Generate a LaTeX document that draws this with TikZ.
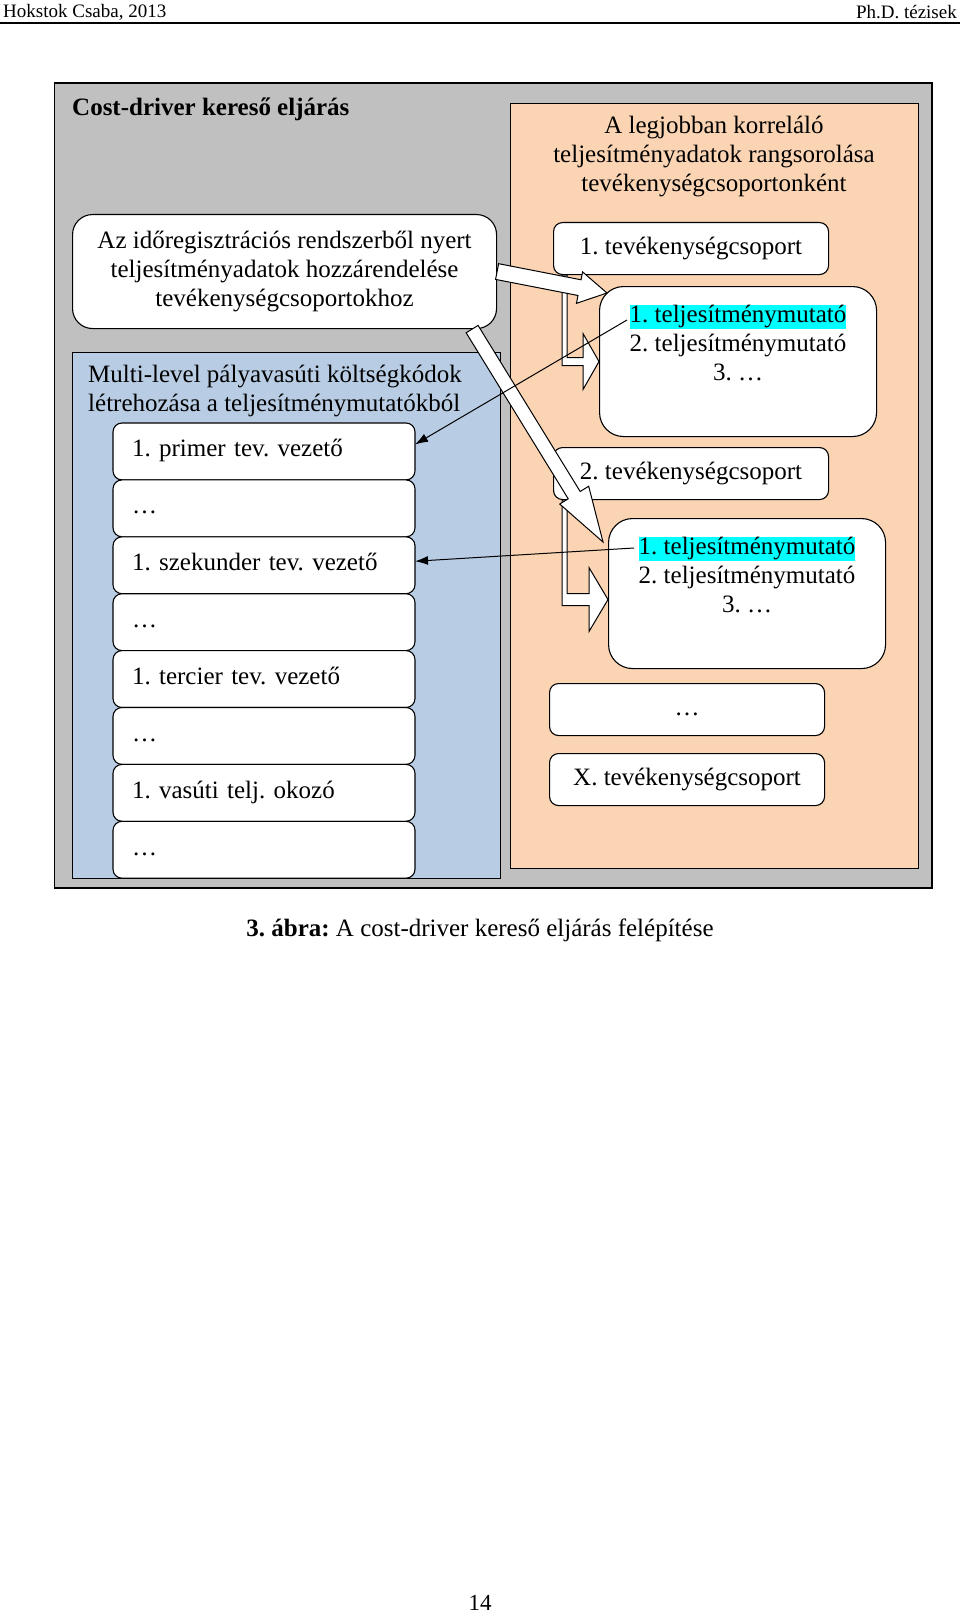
\documentclass[tikz,border=0pt]{standalone}
\usepackage{fontspec}
\setmainfont{Liberation Serif}
\usetikzlibrary{positioning,calc,arrows.meta}

\definecolor{panelgray}{RGB}{192,192,192}
\definecolor{panelpeach}{RGB}{251,212,180}
\definecolor{panelblue}{RGB}{184,204,228}
\definecolor{markcyan}{RGB}{0,255,255}

\newcommand{\hlmark}[1]{{\setlength{\fboxsep}{0pt}\colorbox{markcyan}{\rule[-6pt]{0pt}{24pt}#1}}}
% #1 tail, #2 tip, #3 half shaft, #4 half head, #5 head length
\newcommand{\blockarrow}[5]{%
    \coordinate (ba-base) at ($(#2)!#5!(#1)$);
    \draw[fatarrow] ($(#1)!#3!90:(#2)$) -- ($(ba-base)!#3!90:(#2)$) -- ($(ba-base)!#4!90:(#2)$)
        -- (#2) -- ($(ba-base)!#4!-90:(#2)$) -- ($(ba-base)!#3!-90:(#2)$) -- ($(#1)!#3!-90:(#2)$) -- cycle;
}
% #1 top of the shaft, #2 tip, #3 half foot, #4 half head, #5 head length
\newcommand{\bentarrow}[5]{%
    \coordinate (be-foot) at ($(#2)+(-#5,#3)$);
    \draw[fatarrow] (#1) -- ++(5,0) |- ($(#2)+(-#5,-#3)$) -- ($(#2)+(-#5,-#4)$) -- (#2)
        -- ($(#2)+(-#5,#4)$) -- (be-foot) -- (be-foot -| #1) -- cycle;
}

\begin{document}
\frenchspacing
\begin{tikzpicture}
[
    x=1pt, y=-1pt,
    node distance=0pt,
    every node/.style={font=\frenchspacing\fontsize{25}{29}\selectfont},
    headtext/.style={font=\frenchspacing\fontsize{19}{22}\selectfont, inner sep=0pt},
    card/.style={shape=rectangle, rounded corners=20pt, draw, line width=1.1pt, fill=white, align=center},
    rowbox/.style={shape=rectangle, rounded corners=9pt, draw, line width=1.1pt, fill=white,
        text width=264pt, inner xsep=19pt, inner ysep=0pt, outer sep=0pt, minimum height=56.9pt,
        align=left, text height=18pt, text depth=7pt},
    groupbox/.style={shape=rectangle, rounded corners=9pt, draw, line width=1.1pt, fill=white,
        minimum width=275pt, minimum height=52pt, text height=18pt, text depth=7pt},
    listbox/.style={shape=rectangle, rounded corners=24pt, draw, line width=1.1pt, fill=white,
        minimum width=277pt, minimum height=150pt, align=center},
    fatarrow/.style={draw, line width=1pt, fill=white, line join=miter},
    link/.style={line width=1pt, -{Latex[length=13pt,width=9pt]}},
]
\useasboundingbox (0,0) rectangle (960,1613);
\fill[white] (0,0) rectangle (960,1613);

% page header
\node[headtext, anchor=west] (author) at (3,12) {Hokstok Csaba, 2013};
\node[headtext, anchor=east] (thesis) at (957,12) {Ph.D. tézisek};
\draw[line width=1.5pt] (0,23) -- (960,23);

% panels
\draw[fill=panelgray, line width=1.5pt] (54.5,83) rectangle (932,888);
\draw[fill=panelpeach, line width=1pt] (510,104) rectangle (918,868);
\draw[fill=panelblue, line width=1pt] (72,352) rectangle (500,878);

\node[anchor=west, inner sep=0pt, font=\bfseries\fontsize{25}{29}\selectfont] (title) at (72,109)
    {Cost-driver kereső eljárás};
\node[align=center] (ranking) at (714,157)
    {A legjobban korreláló\\teljesítményadatok rangsorolása\\tevékenységcsoportonként};
\node[card, minimum width=424pt, minimum height=114pt, anchor=north west] (regbox) at (72,214)
    {Az időregisztrációs rendszerből nyert\\teljesítményadatok hozzárendelése\\tevékenységcsoportokhoz};
\node[anchor=west, align=left, inner sep=0pt] (multilevel) at (88,391)
    {Multi-level pályavasúti költségkódok\\létrehozása a teljesítménymutatókból};

% cost codes
\node[rowbox, anchor=north west] (r1) at (113,423) {1. primer tev. vezető};
\node[rowbox, below=of r1] (r2) {…};
\node[rowbox, below=of r2] (r3) {1. szekunder tev. vezető};
\node[rowbox, below=of r3] (r4) {…};
\node[rowbox, below=of r4] (r5) {1. tercier tev. vezető};
\node[rowbox, below=of r5] (r6) {…};
\node[rowbox, below=of r6] (r7) {1. vasúti telj. okozó};
\node[rowbox, below=of r7] (r8) {…};

% activity groups
\node[groupbox, anchor=north west] (group1) at (553,222) {1. tevékenységcsoport};
\node[listbox, anchor=north west] (mut1) at (599,286)
    {\hlmark{1. teljesítménymutató}\\2. teljesítménymutató\\3. …\\\strut};
\node[groupbox, anchor=north west] (group2) at (553,447) {2. tevékenységcsoport};
\node[listbox, anchor=north west] (mut2) at (608,518)
    {\hlmark{1. teljesítménymutató}\\2. teljesítménymutató\\3. …\\\strut};
\node[groupbox, anchor=north west] (groupdots) at (549,683) {…};
\node[groupbox, anchor=north west] (groupx) at (549,753) {X. tevékenységcsoport};

% arrows
\coordinate (foot1) at ($(group1.south west)+(9,0)$);
\coordinate (foot2) at ($(group2.south west)+(9,0)$);
\coordinate (bend2) at ($(mut2.west)+(0,6)$);
\bentarrow{foot1}{mut1.west}{4}{28}{16}
\bentarrow{foot2}{bend2}{6}{32}{19}

\coordinate (tip1) at ($(mut1.north west)+(8,7)$);
\coordinate (tail2) at ($(regbox.south east)+(-25,0)$);
\coordinate (tip2) at ($(mut2.north west)+(-5,24)$);
\blockarrow{regbox.east}{tip1}{8pt}{16pt}{28pt}
\blockarrow{tail2}{tip2}{7pt}{17pt}{55pt}

\coordinate (lead1) at (627,320);
\coordinate (lead2) at (634,548);
\draw[link] (lead1) -- ($(r1.east)+(0,-7)$);
\draw[link] (lead2) -- ($(r3.east)+(0,-4)$);

% caption and page number
\node (caption) at (480,930) {\textbf{3. ábra:} A cost-driver kereső eljárás felépítése};
\node[font=\fontsize{23}{27}\selectfont] (pagenum) at (480,1603) {14};
\end{tikzpicture}
\end{document}
